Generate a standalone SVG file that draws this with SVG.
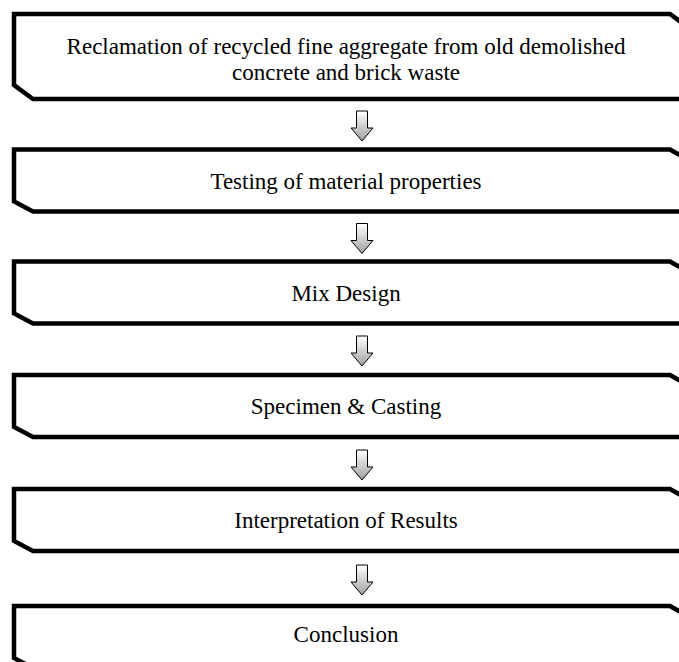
<svg xmlns="http://www.w3.org/2000/svg" width="679" height="662" viewBox="0 0 679 662">
<defs>
<linearGradient id="ag" x1="0" y1="0" x2="0" y2="1">
<stop offset="0" stop-color="#ffffff"/>
<stop offset="1" stop-color="#a0a0a0"/>
</linearGradient>
<path id="arr" d="M-5.5,0 H5.5 V17 H11 L0,30 L-11,17 H-5.5 Z"/>
</defs>
<style>
.box{fill:#fff;stroke:#000;stroke-width:4.5;stroke-linejoin:miter}
.t{font-family:"Liberation Serif","Times New Roman",serif;font-size:23px;fill:#000;text-anchor:middle}
.a{fill:url(#ag);stroke:#000;stroke-width:1}
</style>
<rect width="679" height="662" fill="#fff"/>
<g id="n1"><path class="box" d="M14,14 H670 L689,28 V99 H33 L14,85 Z"/><text class="t" x="346" y="54">Reclamation of recycled fine aggregate from old demolished</text><text class="t" x="346" y="80">concrete and brick waste</text></g>
<g id="n2"><path class="box" d="M14,149.5 H670 L689,160.5 V211.5 H33 L14,201.5 Z"/><text class="t" x="346" y="189">Testing of material properties</text></g>
<g id="n3"><path class="box" d="M14,261.5 H670 L689,272.5 V323.5 H33 L14,313.5 Z"/><text class="t" x="346" y="301">Mix Design</text></g>
<g id="n4"><path class="box" d="M14,375 H670 L689,386 V437 H33 L14,427 Z"/><text class="t" x="346" y="414">Specimen &amp; Casting</text></g>
<g id="n5"><path class="box" d="M14,489 H670 L689,500 V551 H33 L14,541 Z"/><text class="t" x="346" y="528">Interpretation of Results</text></g>
<g id="n6"><path class="box" d="M14,606 H670 L689,617 V668 H33 L14,658 Z"/><text class="t" x="346" y="642">Conclusion</text></g>
<g id="connectors">
<use href="#arr" class="a" x="362" y="111"/>
<use href="#arr" class="a" x="362" y="223.5"/>
<use href="#arr" class="a" x="362" y="336"/>
<use href="#arr" class="a" x="362" y="450"/>
<use href="#arr" class="a" x="362" y="565"/>
</g>
</svg>
